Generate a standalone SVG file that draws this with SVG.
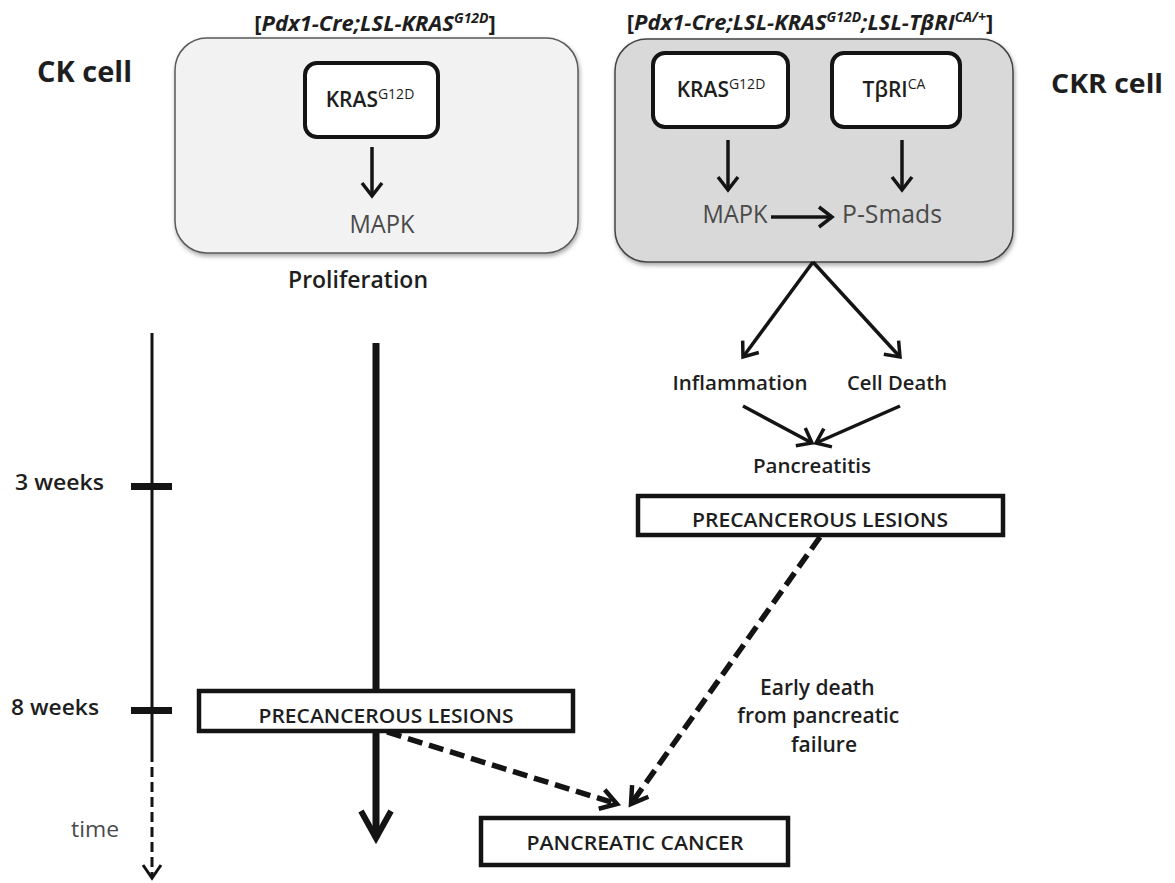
<svg xmlns="http://www.w3.org/2000/svg" width="1175" height="883" viewBox="0 0 1175 883">
<defs>
<style>
text{font-family:"Open Sans","Liberation Sans",sans-serif;fill:#1e1e1e}
.b{font-weight:700}
.sb{font-weight:600}
.reg{font-weight:400;fill:#4a4a4a}
.title{font-weight:700;font-style:italic;font-size:22px}
.up{font-style:normal}
.inner{fill:#fff;stroke:#141414;stroke-width:4}
.lbox{fill:#fff;stroke:#141414;stroke-width:4.5}
.arr{fill:none;stroke:#141414;stroke-width:3.5}
.dash{fill:none;stroke:#141414;stroke-width:5.5;stroke-dasharray:15 7}
.mk{fill:none;stroke:#141414;stroke-linejoin:miter;stroke-linecap:butt}
</style>
<filter id="sh" x="-5%" y="-5%" width="110%" height="115%">
<feDropShadow dx="1" dy="2.5" stdDeviation="2" flood-color="#000" flood-opacity="0.35"/>
</filter>
<marker id="ah-s" markerUnits="userSpaceOnUse" viewBox="0 0 20 22" markerWidth="20" markerHeight="22" refX="14" refY="11" orient="auto" overflow="visible">
<path class="mk" d="M1,1 L14,11 L1,21" stroke-width="3.5"/>
</marker>
<marker id="ah-d" markerUnits="userSpaceOnUse" viewBox="0 0 24 24" markerWidth="24" markerHeight="24" refX="17" refY="12" orient="auto" overflow="visible">
<path class="mk" d="M1,2 L17,12 L1,22" stroke-width="4.5"/>
</marker>
<marker id="ah-b" markerUnits="userSpaceOnUse" viewBox="0 0 32 34" markerWidth="32" markerHeight="34" refX="28" refY="17" orient="auto" overflow="visible">
<path class="mk" d="M1,2 L28,17 L1,32" stroke-width="6"/>
</marker>
<marker id="ah-t" markerUnits="userSpaceOnUse" viewBox="0 0 18 20" markerWidth="18" markerHeight="20" refX="14" refY="10" orient="auto" overflow="visible">
<path class="mk" d="M1,1 L14,10 L1,19" stroke-width="3"/>
</marker>
</defs>
<rect width="1175" height="883" fill="#fff"/>

<!-- side labels -->
<g id="ck-label"><text class="b" x="37" y="82" font-size="28" textLength="95" lengthAdjust="spacingAndGlyphs">CK cell</text></g>
<g id="ckr-label"><text class="b" x="1051" y="93" font-size="27" textLength="112" lengthAdjust="spacingAndGlyphs">CKR cell</text></g>

<!-- CK cell -->
<g id="ck-title"><text class="title" x="375" y="31" text-anchor="middle"><tspan class="up">[</tspan>Pdx1-Cre;LSL-KRAS<tspan font-size="14" dy="-8">G12D</tspan><tspan class="up" dy="8">]</tspan></text></g>
<g id="ck-cell"><rect x="175" y="38" width="403" height="215" rx="32" fill="#f2f2f2" stroke="#5a5a5a" stroke-width="1.5" filter="url(#sh)"/></g>
<g id="ck-kras"><rect class="inner" x="305" y="63" width="133" height="74" rx="12"/>
<text class="sb" x="370" y="107" text-anchor="middle" font-size="21">KRAS<tspan font-size="14" font-weight="400" dy="-8">G12D</tspan></text></g>
<g id="ck-mapk"><text class="reg" x="382" y="233" text-anchor="middle" font-size="25" textLength="65" lengthAdjust="spacingAndGlyphs">MAPK</text></g>
<g id="proliferation"><text class="sb" x="358" y="288" text-anchor="middle" font-size="23" textLength="140" lengthAdjust="spacingAndGlyphs">Proliferation</text></g>

<!-- CKR cell -->
<g id="ckr-title"><text class="title" x="810" y="30" text-anchor="middle"><tspan class="up">[</tspan>Pdx1-Cre;LSL-KRAS<tspan font-size="14" dy="-8">G12D</tspan><tspan dy="8">;LSL-TβRI</tspan><tspan font-size="14" dy="-8">CA/+</tspan><tspan class="up" dy="8">]</tspan></text></g>
<g id="ckr-cell"><rect x="615" y="39" width="398" height="223" rx="32" fill="#d9d9d9" stroke="#444" stroke-width="1.5" filter="url(#sh)"/></g>
<g id="ckr-kras"><rect class="inner" x="653" y="53" width="135" height="74" rx="12"/>
<text class="sb" x="721" y="97" text-anchor="middle" font-size="21">KRAS<tspan font-size="14" font-weight="400" dy="-8">G12D</tspan></text></g>
<g id="ckr-tbri"><rect class="inner" x="832" y="53" width="128" height="74" rx="12"/>
<text class="sb" x="894" y="97" text-anchor="middle" font-size="21">TβRI<tspan font-size="14" font-weight="400" dy="-8">CA</tspan></text></g>
<g id="ckr-mapk"><text class="reg" x="735" y="223" text-anchor="middle" font-size="25" textLength="65" lengthAdjust="spacingAndGlyphs">MAPK</text></g>
<g id="psmads"><text class="reg" x="892" y="223" text-anchor="middle" font-size="25" textLength="100" lengthAdjust="spacingAndGlyphs">P-Smads</text></g>

<g id="inflammation"><text class="sb" x="740" y="390" text-anchor="middle" font-size="20" textLength="135" lengthAdjust="spacingAndGlyphs">Inflammation</text></g>
<g id="celldeath"><text class="sb" x="897" y="390" text-anchor="middle" font-size="20" textLength="100" lengthAdjust="spacingAndGlyphs">Cell Death</text></g>
<g id="pancreatitis"><text class="sb" x="812" y="473" text-anchor="middle" font-size="20" textLength="118" lengthAdjust="spacingAndGlyphs">Pancreatitis</text></g>

<!-- timeline labels -->
<g id="w3"><text class="sb" x="15" y="490" font-size="21" textLength="89" lengthAdjust="spacingAndGlyphs">3 weeks</text></g>
<g id="w8"><text class="sb" x="11" y="715" font-size="21" textLength="88" lengthAdjust="spacingAndGlyphs">8 weeks</text></g>
<g id="time"><text class="reg" x="71" y="837" font-size="21" textLength="48" lengthAdjust="spacingAndGlyphs">time</text></g>

<g id="early-death"><text class="sb" font-size="21" text-anchor="middle">
<tspan x="820" y="695">Early death</tspan>
<tspan x="821" y="723">from pancreatic</tspan>
<tspan x="824" y="752">failure</tspan></text></g>

<!-- connectors -->
<g id="connectors">
<line class="arr" x1="372" y1="147" x2="372" y2="196" marker-end="url(#ah-s)"/>
<line class="arr" x1="728" y1="140" x2="728" y2="190" marker-end="url(#ah-s)"/>
<line class="arr" x1="902" y1="140" x2="902" y2="190" marker-end="url(#ah-s)"/>
<line class="arr" x1="771" y1="217" x2="832" y2="217" marker-end="url(#ah-s)"/>
<line class="arr" x1="813" y1="262" x2="743" y2="357" marker-end="url(#ah-s)"/>
<line class="arr" x1="813" y1="262" x2="900" y2="357" marker-end="url(#ah-s)"/>
<line class="arr" x1="743" y1="406" x2="812" y2="443" marker-end="url(#ah-s)"/>
<line class="arr" x1="900" y1="406" x2="816" y2="443" marker-end="url(#ah-s)"/>
<line x1="152" y1="333" x2="152" y2="752" stroke="#141414" stroke-width="3"/>
<line x1="152" y1="752" x2="152" y2="878" stroke="#141414" stroke-width="3" stroke-dasharray="10 5" marker-end="url(#ah-t)"/>
<rect x="131" y="483" width="41" height="7" fill="#141414"/>
<rect x="131" y="707" width="41" height="7" fill="#141414"/>
<line x1="376" y1="343" x2="376" y2="838" stroke="#141414" stroke-width="7" marker-end="url(#ah-b)"/>
<line class="dash" x1="387" y1="732" x2="617" y2="804" marker-end="url(#ah-d)"/>
<line class="dash" x1="820" y1="537" x2="631" y2="804" marker-end="url(#ah-d)"/>
</g>

<!-- lesion / cancer boxes -->
<g id="ck-lesions"><rect class="lbox" x="199" y="691" width="374" height="40"/>
<text class="sb" x="386" y="723" text-anchor="middle" font-size="20" textLength="255" lengthAdjust="spacingAndGlyphs">PRECANCEROUS LESIONS</text></g>
<g id="ckr-lesions"><rect class="lbox" x="638" y="496" width="365" height="39"/>
<text class="sb" x="820" y="527" text-anchor="middle" font-size="20" textLength="256" lengthAdjust="spacingAndGlyphs">PRECANCEROUS LESIONS</text></g>
<g id="cancer"><rect class="lbox" x="481" y="818" width="307" height="47"/>
<text class="sb" x="635" y="850" text-anchor="middle" font-size="20" textLength="217" lengthAdjust="spacingAndGlyphs">PANCREATIC CANCER</text></g>
</svg>
